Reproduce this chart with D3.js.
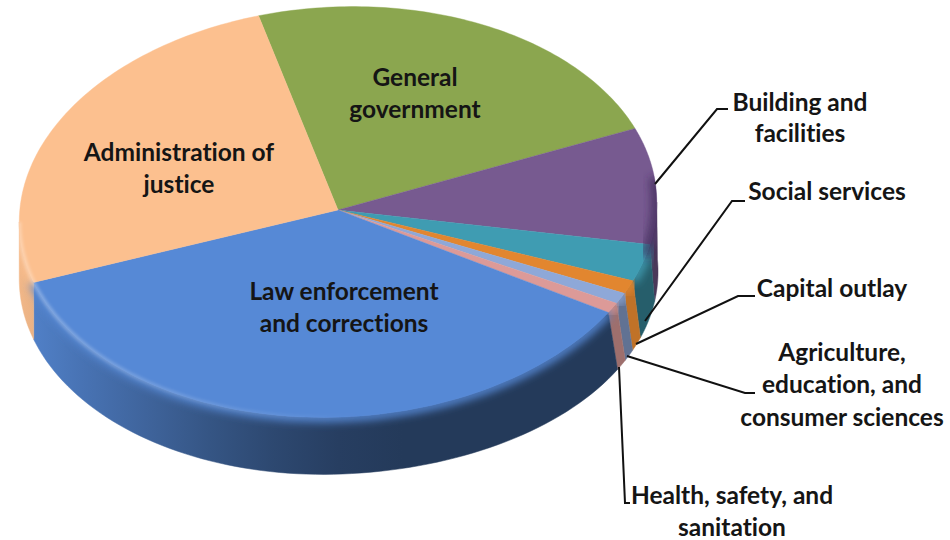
<!DOCTYPE html>
<html>
<head>
<meta charset="utf-8">
<script src="https://cdn.jsdelivr.net/npm/d3@7"></script>
<style>
html,body{margin:0;padding:0;background:#fff}
svg{display:block}
text{font-family:Lato,"Open Sans",sans-serif;font-weight:700;fill:#151515;text-anchor:middle;font-variant-ligatures:none}
</style>
</head>
<body>
<svg id="chart" width="950" height="540"></svg>
<script>
// Spending shares by function, in percent of the total
const categories = ["General government","Building and facilities","Social services","Capital outlay",
  "Agriculture, education, and consumer sciences","Health, safety, and sanitation",
  "Law enforcement and corrections","Administration of justice"];
const shares = [23.1, 9.2, 2.9, 1.05, 0.85, 0.8, 36.3, 25.8];
const topColors = ["#8ba64f","#775a90","#3f9cb2","#e2862f","#8ea8d8","#dc9a98","#5689d6","#fcc08f"];
const wallShades = [1, 0.62, 0.6, 0.85, 0.68, 0.72, 0, 0];

const svg = d3.select("#chart");
const defs = svg.append("defs");

// Tilted-disc geometry; the lower rim flares toward the lower right for perspective
const cx = 338, cy = 212, rx = 319, ry = 205, depth = 57, flare = 10, tilt = -3 * Math.PI / 180;
const rim = (t, drop = 0) => {
  const u = rx * Math.sin(t), v = -ry * Math.cos(t);
  const spread = t < Math.PI ? (drop / depth) * flare * Math.max(0, -Math.sin(2 * t)) : 0;
  return [cx + u * Math.cos(tilt) - v * Math.sin(tilt) + spread,
          cy + u * Math.sin(tilt) + v * Math.cos(tilt) + drop];
};
const pie = d3.pie().sort(null).value(d => d)
  .startAngle(-12.5 * Math.PI / 180)
  .endAngle((360 - 12.5) * Math.PI / 180);
const arcs = pie(shares);

const sample = (a, b) => d3.range(0, 81).map(i => a + (b - a) * i / 80);
const line = d3.line();
const topPath = d => "M" + cx + "," + (cy - 2) + "L" + sample(d.startAngle, d.endAngle).map(t => rim(t).join(",")).join("L") + "Z";

// Part of a slice's outer edge that faces the viewer; the tilt shifts it by about two degrees
const turn = 1.9 * Math.PI / 180;
const front = d => {
  const lo = Math.max(d.startAngle, Math.PI / 2 + turn), hi = Math.min(d.endAngle, 3 * Math.PI / 2 + turn);
  return hi > lo ? [lo, hi] : null;
};
const wallPath = d => {
  const [a, b] = front(d), ts = sample(a, b);
  return line(ts.map(t => rim(t)).concat(ts.slice().reverse().map(t => rim(t, depth)))) + "Z";
};

// Blur filters for the rounded edge
[["soft", 4.5], ["fine", 1.6]].forEach(([id, sd]) => {
  defs.append("filter").attr("id", id).attr("x", "-20%").attr("y", "-20%").attr("width", "140%").attr("height", "140%")
    .append("feGaussianBlur").attr("stdDeviation", sd);
});

// Silhouette keeps the edge shading inside the pie
const clip = defs.append("clipPath").attr("id", "disc");
arcs.forEach(d => {
  clip.append("path").attr("d", topPath(d));
  if (front(d)) clip.append("path").attr("d", wallPath(d));
});

// Wall shading runs left to right across the front of the pie
const darkening = d3.scaleLinear().domain([17, 60, 150, 250, 370, 620]).range([0.96, 0.88, 0.72, 0.55, 0.42, 0.42]);
arcs.forEach((d, i) => {
  if (!front(d)) return;
  const g = defs.append("linearGradient").attr("id", "wall" + i).attr("gradientUnits", "userSpaceOnUse")
    .attr("x1", 17).attr("x2", 660).attr("y1", 0).attr("y2", 0);
  d3.range(0, 11).forEach(k => {
    const x = 17 + 643 * k / 10;
    const f = wallShades[i] || darkening(x);
    g.append("stop").attr("offset", k / 10).attr("stop-color", d3.interpolateRgb("#000", topColors[i])(f));
  });
});
const shine = defs.append("linearGradient").attr("id", "shine").attr("gradientUnits", "userSpaceOnUse")
  .attr("x1", 20).attr("x2", 360).attr("y1", 0).attr("y2", 0);
shine.append("stop").attr("offset", 0).attr("stop-color", "#fff").attr("stop-opacity", 0.28);
shine.append("stop").attr("offset", 1).attr("stop-color", "#fff").attr("stop-opacity", 0);

// Side walls
svg.append("g").selectAll("path").data(arcs.map((d, i) => ({ d, i })).filter(o => front(o.d))).join("path")
  .attr("d", o => wallPath(o.d))
  .attr("fill", o => `url(#wall${o.i})`)
  .attr("stroke", o => `url(#wall${o.i})`).attr("stroke-width", 0.5);

// Rounded edge where the wall meets the top face
const edge = svg.append("g").attr("clip-path", "url(#disc)");
const rimLine = d => line(sample(...front(d)).map(t => rim(t)));
edge.selectAll("path.round").data(arcs.map((d, i) => ({ d, i })).filter(o => front(o.d))).join("path")
  .attr("class", "round")
  .attr("d", o => rimLine(o.d)).attr("fill", "none")
  .attr("stroke", o => topColors[o.i]).attr("stroke-width", 9)
  .attr("filter", "url(#soft)");

// Top faces
svg.append("g").selectAll("path").data(arcs).join("path")
  .attr("d", topPath)
  .attr("fill", (d, i) => topColors[i])
  .attr("stroke", (d, i) => topColors[i]).attr("stroke-width", 0.4);

// Edge highlight and the shaded far-right edge of the purple slice
const over = svg.append("g").attr("clip-path", "url(#disc)");
arcs.forEach((d, i) => {
  if (i >= 6) {
    over.append("path").attr("d", rimLine(d)).attr("fill", "none")
      .attr("stroke", "url(#shine)").attr("stroke-width", 4).attr("filter", "url(#fine)");
  }
});
over.append("path")
  .attr("d", line(sample(arcs[1].startAngle + 0.25, Math.PI / 2 + 0.3).map(t => rim(t))))
  .attr("fill", "none").attr("stroke", "#3c2a55").attr("stroke-width", 11)
  .attr("stroke-opacity", 0.75).attr("filter", "url(#soft)");

// Leader lines
const leaders = [
  [[655, 184], [717, 109], [728, 109]],
  [[645, 321], [732, 201], [745, 201]],
  [[636, 344], [738, 296], [755, 296]],
  [[627, 356], [745, 393], [755, 393]],
  [[619, 367], [625, 503], [630, 503]]
];
svg.append("g").selectAll("path").data(leaders).join("path")
  .attr("d", d3.line()).attr("fill", "none").attr("stroke", "#111").attr("stroke-width", 2);

// Labels, one entry per line of text
const labelLines = [
  ["General", 415, 86], ["government", 415, 118],
  ["Administration of", 179, 161], ["justice", 179, 193],
  ["Law enforcement", 344, 300], ["and corrections", 344, 332],
  ["Building and", 800, 111], ["facilities", 800, 142],
  ["Social services", 827, 200],
  ["Capital outlay", 832, 297],
  ["Agriculture,", 842, 361], ["education, and", 842, 393], ["consumer sciences", 842, 426],
  ["Health, safety, and", 732, 504], ["sanitation", 732, 536]
];
svg.append("g").selectAll("text").data(labelLines).join("text")
  .attr("x", d => d[1]).attr("y", d => d[2]).attr("font-size", 24.5).text(d => d[0]);
</script>
</body>
</html>
